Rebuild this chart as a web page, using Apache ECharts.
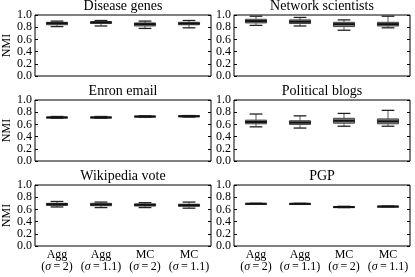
<!DOCTYPE html>
<html><head><meta charset="utf-8">
<script src="https://cdn.jsdelivr.net/npm/echarts@6/dist/echarts.min.js"></script>
<style>html,body{margin:0;padding:0;background:#fff}#c{width:415px;height:277px}</style>
</head><body><div id="c"></div>
<script>
const categories = ['Agg\n(σ=2)', 'Agg\n(σ=1.1)', 'MC\n(σ=2)', 'MC\n(σ=1.1)'];
const titles = ['Disease genes', 'Network scientists', 'Enron email', 'Political blogs', 'Wikipedia vote', 'PGP'];
const yTicks = [0.0, 0.2, 0.4, 0.6, 0.8, 1.0];
// each item: [min, q1, median, q3, max]
const diseaseGenes = [[0.81,0.84,0.865,0.88,0.90],[0.82,0.86,0.88,0.89,0.91],[0.78,0.82,0.85,0.87,0.90],[0.79,0.84,0.86,0.88,0.91]];
const networkScientists = [[0.83,0.87,0.90,0.93,0.98],[0.82,0.86,0.89,0.92,0.96],[0.75,0.81,0.85,0.88,0.92],[0.79,0.82,0.85,0.88,0.98]];
const enronEmail = [[0.70,0.71,0.715,0.72,0.73],[0.70,0.71,0.715,0.72,0.73],[0.715,0.725,0.73,0.735,0.74],[0.72,0.73,0.735,0.74,0.745]];
const politicalBlogs = [[0.56,0.61,0.64,0.67,0.77],[0.54,0.60,0.63,0.66,0.74],[0.57,0.62,0.66,0.70,0.78],[0.57,0.61,0.65,0.69,0.83]];
const wikipediaVote = [[0.64,0.665,0.685,0.70,0.73],[0.63,0.66,0.68,0.70,0.72],[0.63,0.655,0.675,0.69,0.71],[0.62,0.65,0.67,0.685,0.72]];
const pgp = [[0.685,0.69,0.693,0.697,0.70],[0.685,0.69,0.692,0.696,0.70],[0.63,0.637,0.64,0.645,0.65],[0.64,0.645,0.648,0.652,0.655]];
const allData = [diseaseGenes, networkScientists, enronEmail, politicalBlogs, wikipediaVote, pgp];

const FONT = 'Liberation Serif';
const lefts = [35, 234], tops = [15, 100, 185], W = 176, H = 61;
const grids = [], xAxes = [], yAxes = [], series = [], title = [];
for (let i = 0; i < 6; i++) {
  const col = i % 2, row = Math.floor(i / 2);
  grids.push({left: lefts[col], top: tops[row], width: W, height: H, show: true, borderColor: '#000', borderWidth: 1, backgroundColor: 'transparent'});
  title.push({text: titles[i], left: lefts[col] + W / 2, top: tops[row] - 16, textAlign: 'center', padding: 0,
    textStyle: {fontFamily: FONT, fontSize: 14, fontWeight: 'normal', color: '#000', lineHeight: 14}});
  xAxes.push({type: 'category', gridIndex: i, data: categories, boundaryGap: true,
    axisLine: {show: false}, axisTick: {show: false}, splitLine: {show: false},
    axisLabel: {show: row === 2, interval: 0, margin: 3, color: '#000', fontFamily: FONT, fontSize: 12, lineHeight: 12,
      formatter: v => v.replace('(σ=', '({s|σ}\u2009=\u2009'),
      rich: {s: {fontStyle: 'italic', fontFamily: FONT, fontSize: 12, color: '#000', lineHeight: 12}}}});
  yAxes.push({type: 'value', gridIndex: i, min: 0, max: 1, interval: 0.2, position: 'left',
    name: col === 0 ? 'NMI' : '', nameLocation: 'middle', nameRotate: 90, nameGap: 22,
    nameTextStyle: {fontFamily: FONT, fontSize: 12, color: '#000'},
    axisLine: {show: false}, splitLine: {show: false},
    axisTick: {show: true, inside: true, length: 3, lineStyle: {color: '#000'}},
    axisLabel: {color: '#000', fontFamily: FONT, fontSize: 12, margin: 3, formatter: v => v.toFixed(1)}});
  yAxes.push({type: 'value', gridIndex: i, min: 0, max: 1, interval: 0.2, position: 'right',
    axisLine: {show: false}, splitLine: {show: false}, axisLabel: {show: false},
    axisTick: {show: true, inside: true, length: 3, lineStyle: {color: '#000'}}});
  series.push({
    type: 'custom', xAxisIndex: i, yAxisIndex: i * 2,
    data: allData[i].map((d, k) => [k].concat(d)),
    renderItem: function (params, api) {
      const k = api.value(0);
      const vals = [1, 2, 3, 4, 5].map(j => api.coord([k, api.value(j)]));
      const x = vals[0][0];
      const band = api.size([1, 0])[0];
      const bw = band * 0.48, cw = band * 0.29;
      const yMin = vals[0][1], yQ1 = vals[1][1], yMed = vals[2][1], yQ3 = vals[3][1], yMax = vals[4][1];
      return {type: 'group', children: [
        {type: 'line', shape: {x1: x, y1: yMax, x2: x, y2: yQ3}, style: {stroke: '#777', lineWidth: 1.2}},
        {type: 'line', shape: {x1: x, y1: yQ1, x2: x, y2: yMin}, style: {stroke: '#777', lineWidth: 1.2}},
        {type: 'line', shape: {x1: x - cw / 2, y1: yMax, x2: x + cw / 2, y2: yMax}, style: {stroke: '#222', lineWidth: 1.3}},
        {type: 'line', shape: {x1: x - cw / 2, y1: yMin, x2: x + cw / 2, y2: yMin}, style: {stroke: '#222', lineWidth: 1.3}},
        {type: 'rect', shape: {x: x - bw / 2, y: yQ3, width: bw, height: Math.max(yQ1 - yQ3, 1)}, style: {fill: '#8a8a8a', stroke: '#444', lineWidth: 1}},
        {type: 'line', shape: {x1: x - bw / 2, y1: yMed, x2: x + bw / 2, y2: yMed}, style: {stroke: '#111', lineWidth: 2}}
      ]};
    }
  });
}
const chart = echarts.init(document.getElementById('c'), null, {renderer: 'canvas'});
chart.setOption({animation: false, backgroundColor: '#fff', title, grid: grids, xAxis: xAxes, yAxis: yAxes, series});
</script></body></html>
